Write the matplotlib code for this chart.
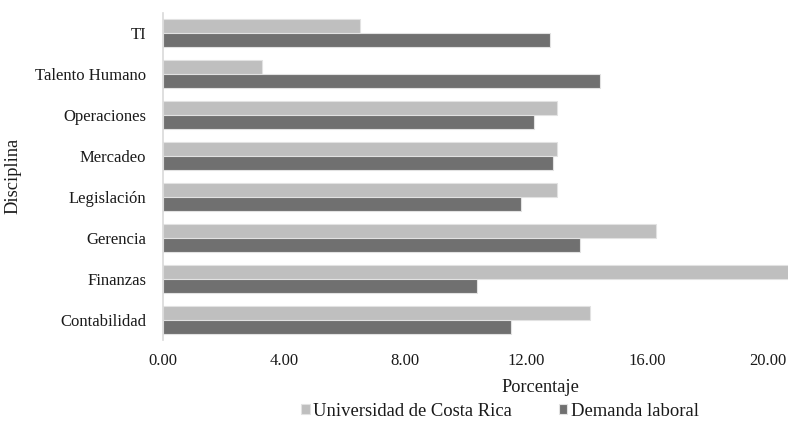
import matplotlib
matplotlib.use("Agg")
import matplotlib.pyplot as plt
import numpy as np

# Disciplines, listed bottom to top as drawn on the y axis
disciplinas = ["Contabilidad", "Finanzas", "Gerencia", "Legislación",
               "Mercadeo", "Operaciones", "Talento Humano", "TI"]

# Percentage per discipline for each series
ucr = [14.12, 20.80, 16.29, 13.03, 13.03, 13.03, 3.26, 6.51]
demanda = [11.51, 10.39, 13.79, 11.84, 12.88, 12.25, 14.45, 12.79]

series_labels = ["Universidad de Costa Rica", "Demanda laboral"]
x_ticks = [0, 4, 8, 12, 16, 20]
x_tick_labels = ["0.00", "4.00", "8.00", "12.00", "16.00", "20.00"]

plt.rcParams["font.family"] = ["Liberation Serif", "DejaVu Serif"]

fig = plt.figure(figsize=(7.88, 4.22), dpi=100)
ax = fig.add_axes([163 / 788, 1 - 340 / 422, 1 - 163 / 788, (340 - 13) / 422])

pos = np.arange(len(disciplinas))
h = 0.342
light = "#bfbfbf"
dark = "#707070"

b1 = ax.barh(pos + h / 2, ucr, height=h, color=light,
             edgecolor="#e2e2e2", linewidth=0.8, label=series_labels[0])
b2 = ax.barh(pos - h / 2, demanda, height=h, color=dark,
             edgecolor="#e2e2e2", linewidth=0.8, label=series_labels[1])

ax.set_xlim(0, 20.66)
ax.set_ylim(-0.5, len(disciplinas) - 0.5)
ax.set_yticks(pos)
ax.set_yticklabels(disciplinas, fontsize=12, color="#1a1a1a")
ax.set_xticks(x_ticks)
ax.set_xticklabels(x_tick_labels, fontsize=12, color="#1a1a1a")
ax.tick_params(axis="both", length=0)
ax.tick_params(axis="y", pad=12)
ax.tick_params(axis="x", pad=9.5)

for s in ["top", "right", "bottom"]:
    ax.spines[s].set_visible(False)
ax.spines["left"].set_color("#d9d9d9")
ax.spines["left"].set_linewidth(1.2)

fig.text(540 / 788, 1 - 387 / 422, "Porcentaje", ha="center", va="center",
         fontsize=13.2, color="#1a1a1a")
fig.text(13 / 788, 1 - 176 / 422, "Disciplina", ha="center", va="center",
         rotation=90, fontsize=13.2, color="#1a1a1a")

fig.legend(handles=[b1, b2], labels=series_labels, ncol=2, frameon=False,
           loc="center", bbox_to_anchor=(500 / 788, 1 - 411 / 422),
           fontsize=13.4, handlelength=0.45, handleheight=0.45,
           handletextpad=0.2, columnspacing=2.5, borderpad=0,
           labelcolor="#1a1a1a")

fig.savefig("out.png", dpi=100)
